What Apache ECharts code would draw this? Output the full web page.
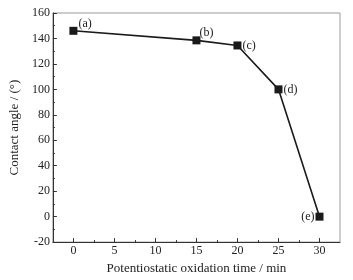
<!DOCTYPE html>
<html>
<head>
<meta charset="utf-8">
<script src="https://cdn.jsdelivr.net/npm/echarts@6/dist/echarts.min.js"></script>
<style>
html,body{margin:0;padding:0;background:#fff;}
#main{width:353px;height:280px;}
</style>
</head>
<body>
<div id="main"></div>
<script>
var times = [0, 15, 20, 25, 30];
var angles = [146, 138.5, 134.5, 100, 0];
var pointNames = ['(a)', '(b)', '(c)', '(d)', '(e)'];
var xTicks = [0, 5, 10, 15, 20, 25, 30];
var xMinorTicks = [2.5, 7.5, 12.5, 17.5, 22.5, 27.5];

var labelPos = ['right', 'right', 'right', 'right', 'left'];
var labelOff = [[-2, -7], [-4, -8], [-2, 0], [-2, 0], [2, 0]];

var font = 'Liberation Serif';
var data = [];
for (var i = 0; i < times.length; i++) {
    data.push({
        value: [times[i], angles[i]],
        label: {position: labelPos[i], offset: labelOff[i], formatter: pointNames[i]}
    });
}

var myChart = echarts.init(document.getElementById('main'));
var option = {
    animation: false,
    textStyle: {fontFamily: font},
    grid: {
        left: 51, right: 13, top: 13, bottom: 32,
        show: true, borderColor: '#999', borderWidth: 1
    },
    xAxis: [
        {
            type: 'value', min: -2.5, max: 32.5,
            name: 'Potentiostatic oxidation time / min',
            nameLocation: 'middle', nameGap: 19,
            nameTextStyle: {fontFamily: font, fontSize: 13, color: '#222'},
            axisLine: {onZero: false, lineStyle: {color: '#333', width: 1}},
            axisTick: {inside: true, length: 4, customValues: xTicks, lineStyle: {color: '#333'}},
            axisLabel: {customValues: xTicks, fontFamily: font, fontSize: 12, color: '#222', margin: 3},
            splitLine: {show: false}
        },
        {
            type: 'value', min: -2.5, max: 32.5, position: 'bottom',
            axisLine: {show: false, onZero: false},
            axisTick: {inside: true, length: 2, customValues: xMinorTicks, lineStyle: {color: '#333'}},
            axisLabel: {show: false},
            splitLine: {show: false}
        }
    ],
    yAxis: {
        type: 'value', min: -20, max: 160, interval: 20,
        name: 'Contact angle / (°)',
        nameLocation: 'middle', nameGap: 23,
        nameTextStyle: {fontFamily: font, fontSize: 13, color: '#222'},
        axisLine: {show: true, onZero: false, lineStyle: {color: '#333', width: 1}},
        axisTick: {inside: true, length: 4, lineStyle: {color: '#333'}},
        minorTick: {show: true, splitNumber: 2, length: 2, lineStyle: {color: '#333'}},
        axisLabel: {fontFamily: font, fontSize: 12, color: '#222', margin: 3},
        splitLine: {show: false}
    },
    series: [
        {
            type: 'line',
            data: data,
            symbol: 'rect',
            symbolSize: 8,
            itemStyle: {color: '#1a1a1a'},
            lineStyle: {color: '#1a1a1a', width: 1.6},
            label: {show: true, fontFamily: font, fontSize: 12, color: '#222', distance: 3}
        }
    ]
};
myChart.setOption(option);
</script>
</body>
</html>
